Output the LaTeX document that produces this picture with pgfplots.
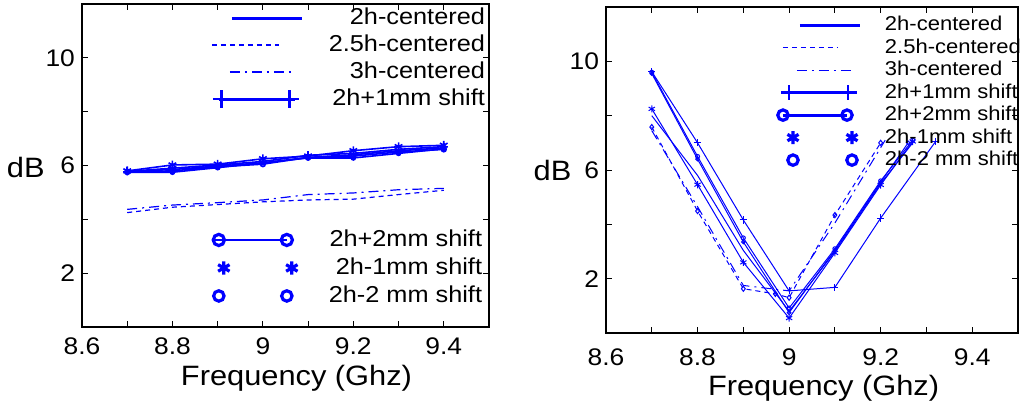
\documentclass[border=0pt]{standalone}
\usepackage{pgfplots}
\pgfplotsset{compat=1.18}
\usepackage{fontspec}
\setmainfont{Liberation Sans}[FakeStretch=1.1]
\definecolor{mblue}{RGB}{0,0,255}

\pgfplotsset{
  mybase/.style={
    scale only axis, xmin=8.6, xmax=9.5, ymin=0, ymax=12,
    xtick={8.6,8.8,9,9.2,9.4}, minor x tick num=1,
    ytick={2,4,6,8,10}, yticklabels={2,,6,,10},
    tick align=inside, major tick length=3pt, minor tick length=3pt,
    tick style={black, line width=0.5pt},
    axis line style={black, line width=0.8pt},
    /pgf/number format/assume math mode=true,
    tick label style={font=\fontsize{12}{14}\selectfont},
    xticklabel style={yshift=-2pt},
    label style={font=\fontsize{14}{16}\selectfont, inner sep=0pt},
  },
}
\tikzset{
  dotst/.style={dash pattern=on 2.5pt off 2pt},
  dashdotst/.style={dash pattern=on 5pt off 2.5pt on 1pt off 2.5pt},
}
\newcommand{\lbbL}{\path[draw=none,fill=none] (-6pt,-4pt) rectangle (44pt,4pt);}
\newcommand{\lbbR}{\path[draw=none,fill=none] (-7pt,-4pt) rectangle (37pt,4pt);}

\begin{document}
\begin{tikzpicture}
\useasboundingbox (0pt,0pt) rectangle (510.5pt,204pt);

% ---------------- left panel ----------------
\begin{axis}[mybase, at={(41pt,40.5pt)}, anchor=south west,
  width=203.5pt, height=161.5pt,
  xlabel={Frequency (Ghz)}, ylabel={dB},
  xlabel style={at={(axis description cs:0.527,-0.158)}, anchor=center},
  ylabel style={rotate=-90, at={(axis description cs:-0.091,0.495)}, anchor=east},
  legend cell align=right,
  legend style={draw=none, fill=none, inner sep=0pt, outer sep=0pt,
    at={(axis description cs:0.99,0.989)}, anchor=north east,
    font=\fontsize{11.5}{13}\selectfont,
    nodes={inner sep=0pt, text height=8.5pt, text depth=2pt},
    row sep=3pt, column sep=11pt},
]
\addplot[mblue, line width=0.8pt,
  legend image code/.code={\lbbL
    \draw[mblue,line width=1.5pt] (6.5pt,0pt) -- (41.5pt,0pt);}]
  coordinates {(8.7,5.78)(8.8,5.85)(8.9,5.98)(9.0,6.1)(9.1,6.3)(9.2,6.4)(9.3,6.55)(9.4,6.65)};
\addlegendentry{2h-centered}
\addplot[mblue, line width=0.6pt, dotst,
  legend image code/.code={\lbbL
    \draw[mblue,line width=0.6pt,dash pattern=on 2.5pt off 2pt] (-3.5pt,0pt) -- (30pt,0pt);}]
  coordinates {(8.7,4.25)(8.8,4.45)(8.9,4.55)(9.0,4.65)(9.1,4.72)(9.2,4.75)(9.3,4.92)(9.4,5.08)};
\addlegendentry{2.5h-centered}
\addplot[mblue, line width=0.6pt, dashdotst,
  legend image code/.code={\lbbL
    \draw[mblue,line width=0.6pt,dash pattern=on 5pt off 2.5pt on 1pt off 2.5pt] (5.5pt,0pt) -- (38pt,0pt);}]
  coordinates {(8.7,4.37)(8.8,4.53)(8.9,4.62)(9.0,4.72)(9.1,4.92)(9.2,4.98)(9.3,5.1)(9.4,5.15)};
\addlegendentry{3h-centered}
\addplot[mblue, line width=0.8pt, mark=+, mark size=2pt,
  legend image code/.code={\lbbL
    \draw[mblue,line width=1.5pt] (0pt,0pt) -- (38pt,0pt);
    \draw[mblue,line width=1.4pt] plot[only marks, mark=+, mark size=4.5pt] coordinates {(1.5pt,0pt) (35.5pt,0pt)};}]
  coordinates {(8.7,5.78)(8.8,5.9)(8.9,6.02)(9.0,6.15)(9.1,6.38)(9.2,6.45)(9.3,6.6)(9.4,6.7)};
\addlegendentry{2h+1mm shift}
\end{axis}

% overlay axis for the lower legend of the left panel
\begin{axis}[mybase, hide axis, at={(41pt,40.5pt)}, anchor=south west,
  width=203.5pt, height=161.5pt,
  legend cell align=right,
  legend style={draw=none, fill=none, inner sep=0pt, outer sep=0pt,
    at={(axis description cs:0.983,0.302)}, anchor=north east,
    font=\fontsize{11.5}{13}\selectfont,
    nodes={inner sep=0pt, text height=8.5pt, text depth=2pt},
    row sep=3.5pt, column sep=11pt},
]
\addplot[mblue, line width=0.8pt, mark=o, mark size=1.2pt,
  legend image code/.code={\lbbL
    \draw[mblue,line width=1.4pt] (-2pt,0pt) -- (34pt,0pt);
    \draw[mblue,line width=1.6pt] plot[only marks, mark=o, mark size=2.8pt] coordinates {(0pt,0pt) (34pt,0pt)};}]
  coordinates {(8.7,5.76)(8.8,5.8)(8.9,5.95)(9.0,6.05)(9.1,6.3)(9.2,6.35)(9.3,6.5)(9.4,6.6)};
\addlegendentry{2h+2mm shift}
\addplot[mblue, line width=0.8pt, mark=asterisk, mark size=2.2pt,
  legend image code/.code={\lbbL
    \draw[mblue,line width=1.6pt] plot[only marks, mark=asterisk, mark size=3.3pt] coordinates {(2.5pt,0pt) (36.5pt,0pt)};}]
  coordinates {(8.7,5.8)(8.8,6.02)(8.9,6.05)(9.0,6.25)(9.1,6.35)(9.2,6.55)(9.3,6.7)(9.4,6.75)};
\addlegendentry{2h-1mm shift}
\addplot[mblue, line width=0.8pt, mark=o, mark size=1pt,
  legend image code/.code={\lbbL
    \draw[mblue,line width=1.6pt] plot[only marks, mark=o, mark size=2.6pt] coordinates {(0pt,0pt) (34pt,0pt)};}]
  coordinates {(8.7,5.75)(8.8,5.75)(8.9,5.92)(9.0,6.1)(9.1,6.28)(9.2,6.28)(9.3,6.45)(9.4,6.62)};
\addlegendentry{2h-2 mm shift}
\end{axis}

% ---------------- right panel ----------------
\begin{axis}[mybase, at={(303pt,37.5pt)}, anchor=south west,
  width=206pt, height=163pt,
  xlabel={Frequency (Ghz)}, ylabel={dB},
  xticklabel style={yshift=-2.5pt},
  xlabel style={at={(axis description cs:0.528,-0.169)}, anchor=center},
  ylabel style={rotate=-90, at={(axis description cs:-0.083,0.5)}, anchor=east},
  legend cell align=left,
  legend style={draw=none, fill=none, inner sep=0pt, outer sep=0pt,
    at={(axis description cs:0.4126,0.973)}, anchor=north west,
    font=\fontsize{10}{12}\selectfont,
    nodes={inner sep=0pt, text height=7.5pt, text depth=1.8pt},
    row sep=1.95pt, column sep=10.5pt},
]
\addplot[mblue, line width=0.5pt,
  legend image code/.code={\lbbR
    \draw[mblue,line width=1.5pt] (5pt,0pt) -- (35pt,0pt);}]
  coordinates {(8.7,8.0)(8.8,5.8)(8.9,3.04)(9.0,0.8)(9.1,3.0)(9.2,5.5)(9.27,7.0)};
\addlegendentry{2h-centered}
\addplot[mblue, line width=0.5pt, dotst, mark=diamond, mark size=1.3pt, mark options={solid},
  legend image code/.code={\lbbR
    \draw[mblue,line width=0.6pt,dash pattern=on 2.5pt off 2pt] (-3.5pt,0pt) -- (24pt,0pt);}]
  coordinates {(8.7,7.58)(8.8,4.49)(8.9,1.63)(8.97,1.44)(9.0,1.3)(9.1,4.34)(9.2,7.0)};
\addlegendentry{2.5h-centered}
\addplot[mblue, line width=0.5pt, dashdotst,
  legend image code/.code={\lbbR
    \draw[mblue,line width=0.6pt,dash pattern=on 5pt off 2.5pt on 1pt off 2.5pt] (3.5pt,0pt) -- (32.5pt,0pt);}]
  coordinates {(8.7,7.45)(8.8,4.65)(8.9,1.75)(9.0,1.55)(9.1,4.05)(9.21,7.1)};
\addlegendentry{3h-centered}
\addplot[mblue, line width=0.5pt, mark=+, mark size=1.8pt,
  legend image code/.code={\lbbR
    \draw[mblue,line width=1.5pt] (-0.5pt,0pt) -- (33.5pt,0pt);
    \draw[mblue,line width=1.4pt] plot[only marks, mark=+, mark size=3.8pt] coordinates {(-0.5pt,0pt) (29pt,0pt)};}]
  coordinates {(8.7,9.62)(8.8,7.0)(8.9,4.16)(9.0,1.55)(9.1,1.68)(9.2,4.23)(9.32,7.05)};
\addlegendentry{2h+1mm shift}
\addplot[mblue, line width=0.5pt, mark=o, mark size=1pt,
  legend image code/.code={\lbbR
    \draw[mblue,line width=1.4pt] (-3.5pt,0pt) -- (28.5pt,0pt);
    \draw[mblue,line width=1.6pt] plot[only marks, mark=o, mark size=2.6pt] coordinates {(-3.5pt,0pt) (28.5pt,0pt)};}]
  coordinates {(8.7,9.6)(8.8,6.5)(8.9,3.5)(9.0,0.92)(9.1,3.1)(9.2,5.6)(9.27,7.1)};
\addlegendentry{2h+2mm shift}
\addplot[mblue, line width=0.5pt, mark=asterisk, mark size=1.8pt,
  legend image code/.code={\lbbR
    \draw[mblue,line width=1.6pt] plot[only marks, mark=asterisk, mark size=3.2pt] coordinates {(1.5pt,0pt) (31pt,0pt)};}]
  coordinates {(8.7,8.25)(8.8,5.46)(8.9,2.6)(9.0,0.55)(9.1,2.95)(9.2,5.45)(9.27,7.05)};
\addlegendentry{2h-1mm shift}
\addplot[mblue, line width=0.5pt, mark=o, mark size=0.9pt,
  legend image code/.code={\lbbR
    \draw[mblue,line width=1.6pt] plot[only marks, mark=o, mark size=2.6pt] coordinates {(1.5pt,0pt) (31pt,0pt)};}]
  coordinates {(8.7,9.55)(8.8,6.4)(8.9,3.35)(9.0,0.75)(9.1,3.05)(9.2,5.55)(9.26,7.0)};
\addlegendentry{2h-2 mm shift}
\end{axis}
\end{tikzpicture}
\end{document}
